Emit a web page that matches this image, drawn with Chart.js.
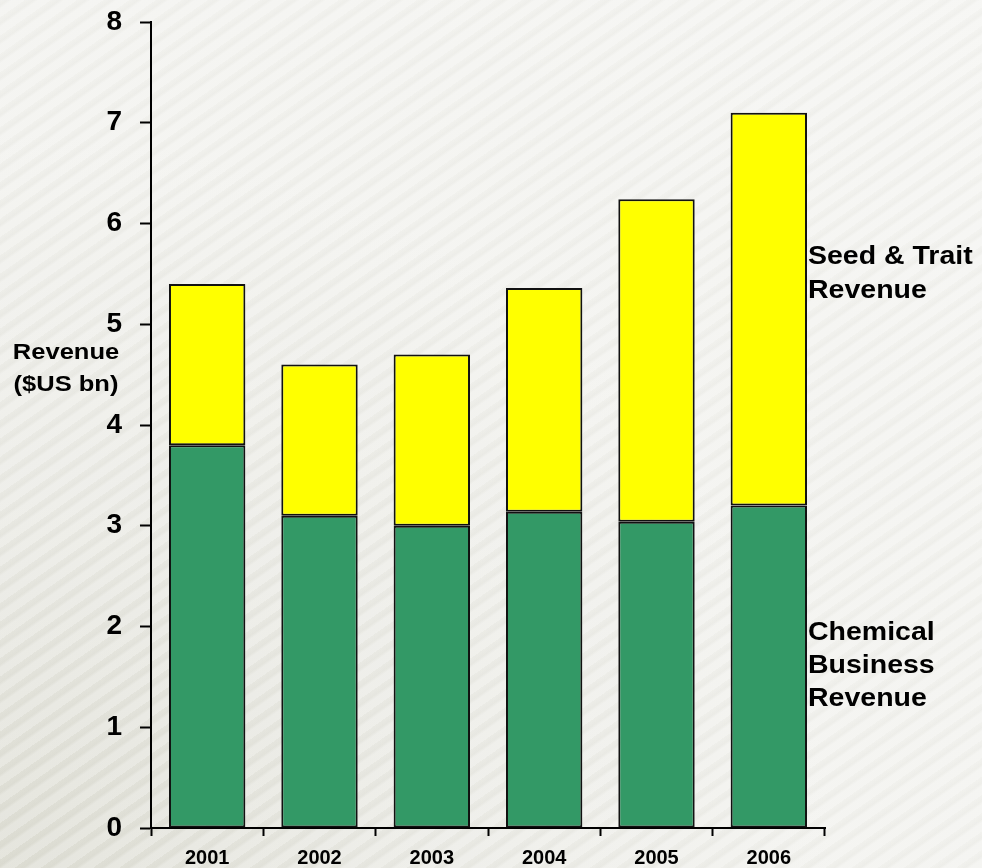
<!DOCTYPE html>
<html>
<head>
<meta charset="utf-8">
<script src="https://cdn.jsdelivr.net/npm/chart.js@4.4.1/dist/chart.umd.min.js"></script>
<style>
    html, body {
        margin: 0;
        padding: 0;
    }
    body {
        width: 982px;
        height: 868px;
        overflow: hidden;
        background:
            repeating-linear-gradient(-35deg, rgba(255,255,255,0.25) 0px, rgba(255,255,255,0.25) 7px, rgba(190,190,180,0.07) 10px, rgba(255,255,255,0) 15px),
            radial-gradient(ellipse at 0% 100%, #dcdcd2 0%, #e9e9e3 30%, #f1f1ed 60%, #f4f4f1 100%);
    }
    #wrap {
        position: relative;
        width: 982px;
        height: 868px;
    }
</style>
</head>
<body>
<div id="wrap"><canvas id="grafico"></canvas></div>
<script>
const anos = ['2001', '2002', '2003', '2004', '2005', '2006'];
const receitaQuimica = [3.8, 3.1, 3.0, 3.14, 3.04, 3.2];
const receitaSementes = [1.6, 1.5, 1.7, 2.22, 3.2, 3.9];
const eixoMin = 0;
const eixoMax = 8;

const FONTE = '"Liberation Sans", Arial, Helvetica, sans-serif';

// escreve texto com leve esticamento horizontal, como na imagem original
function textoEsticado(c, txt, x, y, sx) {
    c.save();
    c.translate(x, y);
    c.scale(sx, 1);
    c.fillText(txt, 0, 0);
    c.restore();
}

const rotulosTexto = {
    id: 'rotulosTexto',
    afterDraw(chart) {
        const c = chart.ctx;
        const y = chart.scales.y;
        const area = chart.chartArea;
        c.save();
        c.fillStyle = '#000';
        c.textBaseline = 'middle';

        c.font = 'bold 25px ' + FONTE;
        c.textAlign = 'left';
        const xr = area.right - 17;
        let yy = y.getPixelForValue(5.5);
        textoEsticado(c, 'Seed & Trait', xr, yy - 17, 1.14);
        textoEsticado(c, 'Revenue', xr, yy + 17, 1.14);

        yy = y.getPixelForValue(1.61);
        textoEsticado(c, 'Chemical', xr, yy - 33, 1.14);
        textoEsticado(c, 'Business', xr, yy, 1.14);
        textoEsticado(c, 'Revenue', xr, yy + 33, 1.14);

        c.font = 'bold 22px ' + FONTE;
        c.textAlign = 'center';
        yy = y.getPixelForValue(4.56);
        textoEsticado(c, 'Revenue', 66, yy - 16, 1.16);
        textoEsticado(c, '($US bn)', 66, yy + 16, 1.16);
        c.restore();
    }
};

const ctx = document.getElementById('grafico').getContext('2d');
const grafico = new Chart(ctx, {
    type: 'bar',
    data: {
        labels: anos,
        datasets: [
            {
                label: 'Chemical Business Revenue',
                data: receitaQuimica,
                backgroundColor: '#339966',
                borderColor: '#111',
                borderWidth: 2,
                borderSkipped: false
            },
            {
                label: 'Seed & Trait Revenue',
                data: receitaSementes,
                backgroundColor: '#ffff00',
                borderColor: '#111',
                borderWidth: 2,
                borderSkipped: false
            }
        ]
    },
    options: {
        responsive: true,
        maintainAspectRatio: false,
        animation: false,
        layout: {
            padding: { top: 22, right: 157, bottom: 0, left: 0 }
        },
        datasets: {
            bar: { categoryPercentage: 1, barPercentage: 0.68 }
        },
        plugins: {
            legend: { display: false },
            tooltip: { enabled: false }
        },
        scales: {
            x: {
                stacked: true,
                grid: {
                    offset: true,
                    drawOnChartArea: false,
                    drawTicks: true,
                    tickLength: 8,
                    tickColor: '#000',
                    tickWidth: 2
                },
                border: { display: true, color: '#000', width: 2 },
                ticks: {
                    color: '#000',
                    font: { family: FONTE, size: 20, weight: 'bold' },
                    padding: 10,
                    maxRotation: 0
                },
                afterFit(scale) {
                    scale.height = 40;
                    scale.paddingLeft = 0;
                    scale.paddingRight = 0;
                }
            },
            y: {
                stacked: true,
                min: eixoMin,
                max: eixoMax,
                grid: {
                    drawOnChartArea: false,
                    drawTicks: true,
                    tickLength: 11,
                    tickColor: '#000',
                    tickWidth: 2
                },
                border: { display: true, color: '#000', width: 2 },
                ticks: {
                    stepSize: 1,
                    color: '#000',
                    font: { family: FONTE, size: 28, weight: 'bold' },
                    padding: 18
                },
                afterFit(scale) {
                    scale.width = 151;
                    scale.paddingTop = 0;
                    scale.paddingBottom = 0;
                }
            }
        }
    },
    plugins: [rotulosTexto]
});
</script>
</body>
</html>
